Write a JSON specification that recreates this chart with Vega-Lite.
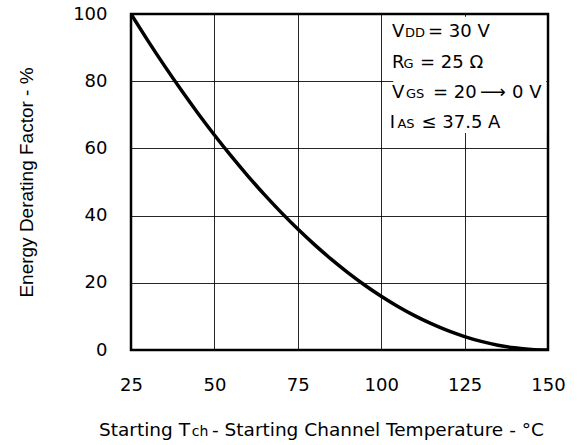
{
  "$schema": "https://vega.github.io/schema/vega-lite/v6.json",
  "width": 417,
  "height": 336,
  "autosize": "none",
  "padding": {"left": 131, "top": 14, "right": 29, "bottom": 95},
  "background": "white",
  "config": {
    "font": "DejaVu Sans",
    "view": {"stroke": "black", "strokeWidth": 2.5},
    "axis": {"labelFont": "DejaVu Sans", "titleFont": "Liberation Sans", "labelColor": "black", "titleColor": "black", "labelFontSize": 18, "titleFontSize": 19, "titleFontWeight": "normal", "domain": false, "ticks": false, "grid": true, "gridColor": "black", "gridWidth": 1, "gridOpacity": 0.85, "labelFlush": false}
  },
  "datasets": {
    "curve": [
      {"t": 25, "p": 100}, {"t": 30, "p": 92.16}, {"t": 35, "p": 84.64}, {"t": 40, "p": 77.44},
      {"t": 45, "p": 70.56}, {"t": 50, "p": 64}, {"t": 55, "p": 57.76}, {"t": 60, "p": 51.84},
      {"t": 65, "p": 46.24}, {"t": 70, "p": 40.96}, {"t": 75, "p": 36}, {"t": 80, "p": 31.36},
      {"t": 85, "p": 27.04}, {"t": 90, "p": 23.04}, {"t": 95, "p": 19.36}, {"t": 100, "p": 16},
      {"t": 105, "p": 12.96}, {"t": 110, "p": 10.24}, {"t": 115, "p": 7.84}, {"t": 120, "p": 5.76},
      {"t": 125, "p": 4}, {"t": 130, "p": 2.56}, {"t": 135, "p": 1.44}, {"t": 140, "p": 0.64},
      {"t": 145, "p": 0.16}, {"t": 150, "p": 0}
    ],
    "mainText": [
      {"t": 103.24, "p": 93.25, "label": "V"},
      {"t": 114.03, "p": 93.25, "label": "= 30 V"},
      {"t": 103.24, "p": 83.84, "label": "R"},
      {"t": 111.63, "p": 83.84, "label": "= 25 Ω"},
      {"t": 103.24, "p": 74.91, "label": "V"},
      {"t": 115.53, "p": 74.91, "label": "= 20"},
      {"t": 129.6, "p": 74.91, "label": "⟶"},
      {"t": 139.21, "p": 74.91, "label": "0 V"},
      {"t": 102.6, "p": 66.16, "label": "I"},
      {"t": 112.08, "p": 66.16, "label": "≤ 37.5 A"}
    ],
    "subText": [
      {"t": 107.13, "p": 93.25, "label": "DD"},
      {"t": 106.68, "p": 83.84, "label": "G"},
      {"t": 107.43, "p": 74.91, "label": "GS"},
      {"t": 104.86, "p": 66.16, "label": "AS"}
    ],
    "titleMain": [
      {"t": 15.41, "p": -25.45, "label": "Starting T"},
      {"t": 49.28, "p": -25.45, "label": "- Starting Channel Temperature - °C"}
    ],
    "titleSub": [
      {"t": 43.2, "p": -25.45, "label": "ch"}
    ]
  },
  "layer": [
    {
      "data": {"name": "curve"},
      "mark": {"type": "line", "color": "black", "strokeWidth": 3.5, "interpolate": "monotone", "clip": true},
      "encoding": {
        "x": {"field": "t", "type": "quantitative", "scale": {"domain": [25, 150], "nice": false, "zero": false},
              "axis": {"values": [25, 50, 75, 100, 125, 150], "labelPadding": 26, "title": null}},
        "y": {"field": "p", "type": "quantitative", "scale": {"domain": [0, 100], "nice": false},
              "axis": {"values": [0, 10, 20, 30, 40, 50, 60, 70, 80, 90, 100], "labelExpr": "datum.value % 20 == 0 ? datum.label : ''", "labelPadding": 24, "title": "Energy Derating Factor - %", "titlePadding": 36}}
      }
    },
    {
      "data": {"values": [{}]},
      "mark": {"type": "rect", "color": "white"},
      "encoding": {
        "x": {"datum": 103.6, "type": "quantitative"},
        "x2": {"datum": 149.45},
        "y": {"datum": 64.6, "type": "quantitative"},
        "y2": {"datum": 99.2}
      }
    },
    {
      "data": {"name": "mainText"},
      "mark": {"type": "text", "align": "left", "baseline": "alphabetic", "fontSize": 18, "color": "black"},
      "encoding": {
        "x": {"field": "t", "type": "quantitative"},
        "y": {"field": "p", "type": "quantitative"},
        "text": {"field": "label"}
      }
    },
    {
      "data": {"name": "subText"},
      "mark": {"type": "text", "align": "left", "baseline": "alphabetic", "fontSize": 13, "color": "black"},
      "encoding": {
        "x": {"field": "t", "type": "quantitative"},
        "y": {"field": "p", "type": "quantitative"},
        "text": {"field": "label"}
      }
    },
    {
      "data": {"name": "titleMain"},
      "mark": {"type": "text", "align": "left", "baseline": "alphabetic", "fontSize": 18.5, "color": "black"},
      "encoding": {
        "x": {"field": "t", "type": "quantitative"},
        "y": {"field": "p", "type": "quantitative"},
        "text": {"field": "label"}
      }
    },
    {
      "data": {"name": "titleSub"},
      "mark": {"type": "text", "align": "left", "baseline": "alphabetic", "fontSize": 14, "color": "black"},
      "encoding": {
        "x": {"field": "t", "type": "quantitative"},
        "y": {"field": "p", "type": "quantitative"},
        "text": {"field": "label"}
      }
    }
  ]
}
